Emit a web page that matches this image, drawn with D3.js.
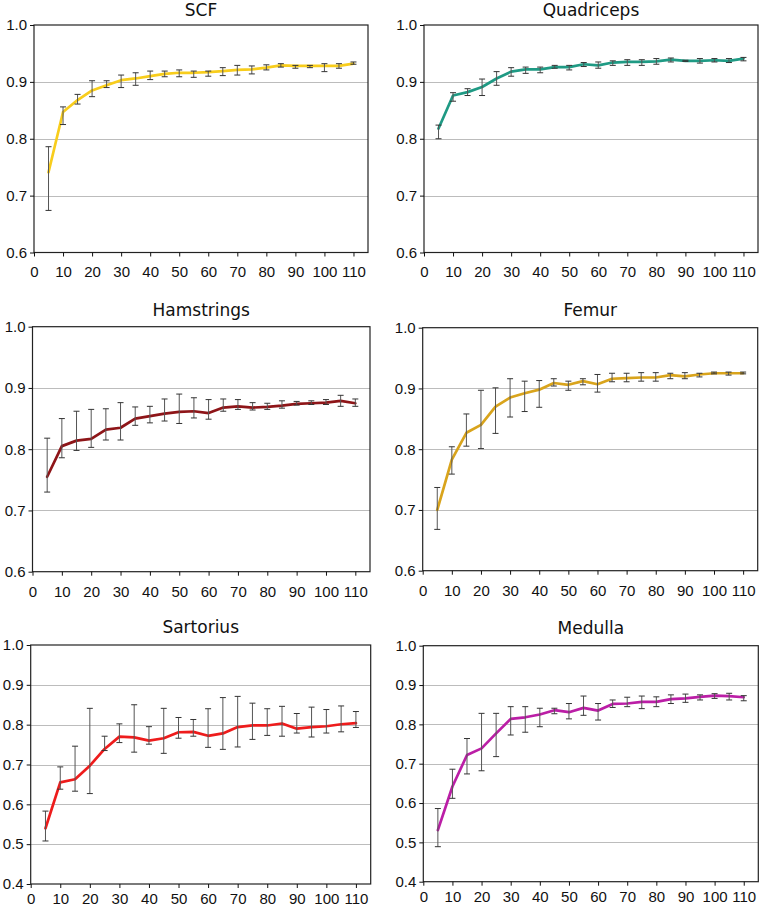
<!DOCTYPE html>
<html><head><meta charset="utf-8">
<script src="https://cdn.jsdelivr.net/npm/d3@7"></script>
<style>body{margin:0;background:#fff}svg{display:block}</style>
</head><body><svg id="c" width="762" height="907"></svg>
<script>
// ---- data ----
const xValues = [5,10,15,20,25,30,35,40,45,50,55,60,65,70,75,80,85,90,95,100,105,110];
const xTickValues = [0,10,20,30,40,50,60,70,80,90,100,110];
const yTicksTop = [0.6,0.7,0.8,0.9,1.0];
const yTicksBottom = [0.4,0.5,0.6,0.7,0.8,0.9,1.0];
const titles = ["SCF","Quadriceps","Hamstrings","Femur","Sartorius","Medulla"];

const scfMean = [0.741,0.847,0.868,0.885,0.894,0.903,0.906,0.910,0.914,0.916,0.916,0.917,0.919,0.921,0.922,0.925,0.929,0.928,0.928,0.928,0.928,0.932];
const scfHigh = [0.786,0.856,0.878,0.902,0.902,0.912,0.916,0.919,0.919,0.921,0.919,0.919,0.925,0.929,0.928,0.930,0.932,0.929,0.929,0.932,0.932,0.935];
const scfLow  = [0.674,0.825,0.861,0.874,0.890,0.890,0.894,0.904,0.909,0.909,0.908,0.910,0.911,0.912,0.914,0.921,0.926,0.924,0.925,0.918,0.924,0.931];

const quadMean = [0.818,0.876,0.882,0.891,0.906,0.918,0.922,0.922,0.926,0.926,0.931,0.929,0.934,0.935,0.935,0.936,0.939,0.937,0.937,0.938,0.937,0.941];
const quadHigh = [0.824,0.881,0.888,0.905,0.918,0.925,0.926,0.926,0.929,0.929,0.934,0.935,0.937,0.939,0.939,0.941,0.942,0.938,0.941,0.941,0.941,0.943];
const quadLow  = [0.800,0.866,0.876,0.876,0.894,0.910,0.915,0.916,0.924,0.921,0.927,0.924,0.929,0.929,0.929,0.931,0.935,0.936,0.933,0.935,0.934,0.937];

const hamMean = [0.755,0.805,0.814,0.817,0.832,0.835,0.850,0.854,0.858,0.861,0.862,0.859,0.868,0.870,0.868,0.869,0.871,0.874,0.875,0.876,0.879,0.875];
const hamHigh = [0.818,0.850,0.862,0.865,0.866,0.876,0.869,0.870,0.882,0.890,0.884,0.881,0.882,0.881,0.876,0.875,0.879,0.878,0.879,0.881,0.888,0.882];
const hamLow  = [0.730,0.786,0.798,0.803,0.815,0.815,0.839,0.843,0.846,0.842,0.851,0.849,0.862,0.865,0.864,0.865,0.867,0.872,0.873,0.873,0.870,0.870];

const femMean = [0.700,0.783,0.827,0.840,0.870,0.885,0.892,0.898,0.909,0.906,0.912,0.907,0.916,0.917,0.918,0.918,0.922,0.920,0.923,0.925,0.925,0.925];
const femHigh = [0.737,0.804,0.858,0.897,0.901,0.916,0.912,0.913,0.916,0.912,0.916,0.923,0.925,0.925,0.926,0.926,0.925,0.926,0.925,0.927,0.927,0.927];
const femLow  = [0.668,0.759,0.805,0.801,0.826,0.853,0.862,0.869,0.904,0.897,0.906,0.894,0.911,0.911,0.912,0.912,0.916,0.916,0.919,0.924,0.922,0.924];

const sarMean = [0.540,0.655,0.663,0.697,0.739,0.770,0.768,0.760,0.766,0.781,0.782,0.772,0.778,0.794,0.798,0.798,0.803,0.790,0.794,0.796,0.801,0.804];
const sarHigh = [0.583,0.694,0.746,0.841,0.771,0.802,0.850,0.795,0.841,0.818,0.813,0.840,0.868,0.871,0.854,0.840,0.846,0.828,0.844,0.838,0.847,0.833];
const sarLow  = [0.508,0.638,0.633,0.627,0.735,0.755,0.731,0.751,0.728,0.766,0.771,0.743,0.738,0.744,0.763,0.773,0.771,0.779,0.769,0.779,0.782,0.793];

const medMean = [0.531,0.642,0.722,0.739,0.777,0.814,0.818,0.825,0.836,0.831,0.842,0.835,0.852,0.853,0.857,0.857,0.864,0.866,0.870,0.873,0.872,0.869];
const medHigh = [0.586,0.686,0.764,0.828,0.828,0.845,0.845,0.841,0.841,0.853,0.872,0.853,0.862,0.869,0.872,0.870,0.875,0.877,0.875,0.878,0.879,0.873];
const medLow  = [0.489,0.612,0.674,0.682,0.718,0.773,0.780,0.794,0.827,0.814,0.823,0.811,0.843,0.845,0.840,0.845,0.853,0.856,0.862,0.866,0.862,0.860];

// ---- layout / style ----
const panels = [
  {title:titles[0], mean:scfMean, low:scfLow, high:scfHigh, color:"#f8cd1c", yTicks:yTicksTop, l:34, r:368, t:25, b:252.5, titleY:16, labDy:24},
  {title:titles[1], mean:quadMean, low:quadLow, high:quadHigh, color:"#1f9a84", yTicks:yTicksTop, l:424, r:758, t:25, b:252.5, titleY:16, labDy:24},
  {title:titles[2], mean:hamMean, low:hamLow, high:hamHigh, color:"#8e1518", yTicks:yTicksTop, l:32.5, r:370, t:326.7, b:571.7, titleY:316, labDy:25},
  {title:titles[3], mean:femMean, low:femLow, high:femHigh, color:"#d9a41c", yTicks:yTicksTop, l:422.7, r:757.7, t:327.7, b:570.7, titleY:316, labDy:25},
  {title:titles[4], mean:sarMean, low:sarLow, high:sarHigh, color:"#ee1c1c", yTicks:yTicksBottom, l:30.7, r:370.7, t:645, b:884, titleY:633, labDy:20},
  {title:titles[5], mean:medMean, low:medLow, high:medHigh, color:"#bb1ea6", yTicks:yTicksBottom, l:423.3, r:758.3, t:645.7, b:881.7, titleY:634, labDy:20}
];

const svg = d3.select("#c");

panels.forEach(p => {
  const x = d3.scaleLinear().domain([0,115]).range([p.l, p.r]);
  const y = d3.scaleLinear().domain([p.yTicks[0], p.yTicks[p.yTicks.length-1]]).range([p.b, p.t]);
  const g = svg.append("g");

  // gridlines
  g.selectAll(".grid").data(p.yTicks.slice(1, -1)).enter().append("line")
    .attr("x1", p.l).attr("x2", p.r)
    .attr("y1", d => Math.round(y(d)) + 0.5).attr("y2", d => Math.round(y(d)) + 0.5)
    .attr("stroke", "#bcbcbc").attr("stroke-width", 1.2);

  // frame
  g.append("rect").attr("x", p.l).attr("y", p.t).attr("width", p.r - p.l).attr("height", p.b - p.t)
    .attr("fill", "none").attr("stroke", "#222").attr("stroke-width", 1.2);

  // axes
  const xAxis = d3.axisBottom(x).tickValues(xTickValues).tickSize(4).tickSizeOuter(0).tickPadding(0);
  const gx = g.append("g").attr("transform", `translate(0,${p.b})`).call(xAxis);
  gx.selectAll(".tick line").attr("stroke", "#111");
  gx.selectAll(".tick text").attr("y", p.labDy).attr("dy", null)
    .attr("font-family", "'Liberation Sans', Arial, sans-serif").attr("font-size", 15).attr("fill", "#111");

  const yAxis = d3.axisLeft(y).tickValues(p.yTicks).tickFormat(d3.format(".1f")).tickSize(4).tickSizeOuter(0).tickPadding(3);
  const gy = g.append("g").attr("transform", `translate(${p.l},0)`).call(yAxis);
  gy.selectAll(".tick line").attr("stroke", "#111");
  gy.selectAll(".tick text")
    .attr("font-family", "'Liberation Sans', Arial, sans-serif").attr("font-size", 15).attr("fill", "#111");
  g.selectAll(".domain").remove();

  // line
  const pts = xValues.map((v, i) => [v, p.mean[i]]);
  g.append("path").datum(pts)
    .attr("d", d3.line().x(d => x(d[0])).y(d => y(d[1])))
    .attr("fill", "none").attr("stroke", p.color).attr("stroke-width", 2.7)
    .attr("stroke-linejoin", "round").attr("stroke-linecap", "round");

  // error bars
  const eb = g.selectAll(".eb").data(xValues.map((v, i) => ({x: v, lo: p.low[i], hi: p.high[i]}))).enter().append("g");
  eb.append("line").attr("x1", d => x(d.x)).attr("x2", d => x(d.x))
    .attr("y1", d => y(d.hi)).attr("y2", d => y(d.lo)).attr("stroke", "#555").attr("stroke-width", 1);
  eb.append("line").attr("x1", d => x(d.x) - 3).attr("x2", d => x(d.x) + 3)
    .attr("y1", d => y(d.hi)).attr("y2", d => y(d.hi)).attr("stroke", "#333").attr("stroke-width", 1);
  eb.append("line").attr("x1", d => x(d.x) - 3).attr("x2", d => x(d.x) + 3)
    .attr("y1", d => y(d.lo)).attr("y2", d => y(d.lo)).attr("stroke", "#333").attr("stroke-width", 1);

  // title
  g.append("text").attr("x", (p.l + p.r) / 2).attr("y", p.titleY)
    .attr("text-anchor", "middle")
    .attr("font-family", "'DejaVu Sans', Verdana, sans-serif").attr("font-size", 17).attr("fill", "#111")
    .text(p.title);
});
</script>
</body></html>
